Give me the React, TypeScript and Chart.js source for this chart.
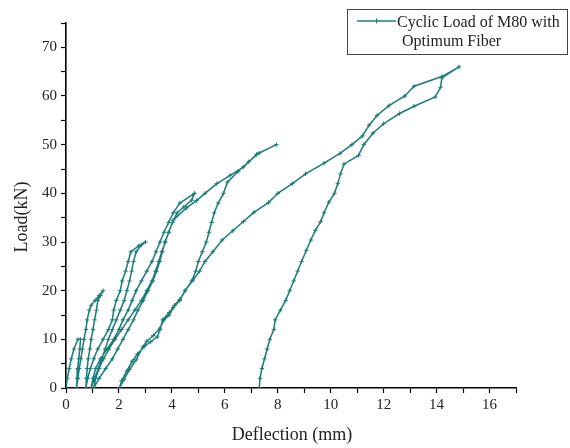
import { useEffect, useRef } from 'react';
import { Chart, registerables } from 'chart.js';

Chart.register(...registerables);

// Cycle 1: load to 10 kN and unload
const c1Defl = [0, 0.05, 0.12, 0.2, 0.3, 0.45, 0.55, 0.52, 0.48, 0.44, 0.42, 0.4];
const c1Load = [0, 2, 4, 6, 8, 10, 10, 8, 6, 4, 2, 0];
// Cycle 2: load to 20 kN and unload
const c2Defl = [0.45, 0.5, 0.56, 0.62, 0.68, 0.75, 0.8, 0.88, 0.95, 1.1, 1.25, 1.4, 1.3, 1.2, 1.15, 1.08, 1.02, 0.95, 0.9, 0.84, 0.8, 0.77, 0.75];
const c2Load = [2, 4, 6, 8, 10, 12, 14, 16, 17, 18, 19, 20, 19, 18, 16, 14, 12, 10, 8, 6, 4, 2, 0];
// Cycle 3: load to 30 kN and unload
const c3Defl = [0.82, 0.92, 1.05, 1.2, 1.4, 1.6, 1.75, 1.8, 1.9, 2.05, 2.12, 2.25, 2.35, 2.45, 2.75, 3.0, 2.85, 2.65, 2.55, 2.48, 2.4, 2.3, 2.2, 2.05, 1.9, 1.75, 1.6, 1.48, 1.35, 1.22, 1.08, 0.95];
const c3Load = [2, 4, 6, 8, 10, 12, 14, 16, 18, 20, 22, 24, 26, 28, 29.2, 30, 29.4, 28, 26, 24, 22, 20, 18, 16, 14, 12, 10, 8, 6, 4, 2, 0];
// Cycle 4: load to 40 kN and unload
const c4Defl = [1.02, 1.12, 1.3, 1.55, 1.8, 2.0, 2.15, 2.35, 2.5, 2.65, 2.85, 3.05, 3.25, 3.4, 3.55, 3.7, 3.88, 4.05, 4.3, 4.85, 4.75, 4.45, 4.2, 4.02, 3.88, 3.74, 3.64, 3.54, 3.42, 3.28, 3.1, 2.92, 2.72, 2.55, 2.35, 2.15, 1.95, 1.75, 1.5, 1.25, 1.05];
const c4Load = [2, 4, 6, 8, 10, 12, 14, 16, 18, 20, 22, 24, 26, 28, 30, 32, 34, 36, 38, 40, 38.6, 37.2, 36, 34, 32, 30, 28, 26, 24, 22, 20, 18, 16, 14, 12, 10, 8, 6, 4, 2, 0];
// Cycle 5: load to 50 kN and unload
const c5Defl = [1.12, 1.25, 1.42, 1.62, 1.85, 2.1, 2.35, 2.6, 2.85, 3.05, 3.25, 3.38, 3.5, 3.62, 3.75, 3.88, 4.05, 4.55, 4.93, 5.25, 5.7, 6.2, 6.7, 7.2, 7.95, 7.3, 6.9, 6.5, 6.1, 5.95, 5.75, 5.6, 5.5, 5.4, 5.3, 5.15, 5.0, 4.9, 4.75, 4.5, 4.3, 4.05, 3.9, 3.7, 3.55, 3.3, 3.05, 2.9, 2.65, 2.4, 2.2, 2.02];
const c5Load = [2, 4, 6, 8, 10, 12, 14, 16, 18, 20, 22, 24, 26, 28, 30, 32, 34.5, 37, 38.5, 40, 42, 43.7, 45.4, 48, 50, 48.3, 46.5, 44.5, 42.3, 40, 38, 36, 34, 32, 30, 28, 26, 24, 22, 20, 18, 16.5, 15, 14, 12.3, 10.8, 9.6, 8.4, 5.8, 3.8, 1.8, 0];
// Cycle 6: load to 66 kN and unload
const c6Defl = [2.1, 2.3, 2.5, 2.7, 2.95, 3.2, 3.45, 3.55, 3.65, 3.9, 4.1, 4.3, 4.5, 4.8, 5.05, 5.25, 5.55, 5.9, 6.3, 6.7, 7.1, 7.65, 8.0, 8.55, 9.05, 9.75, 10.35, 10.8, 11.2, 11.45, 11.75, 12.2, 12.8, 13.15, 14.2, 14.85, 14.2, 14.15, 13.95, 13.15, 12.6, 12.0, 11.6, 11.25, 11.05, 10.5, 10.37, 10.27, 10.14, 9.93, 9.75, 9.62, 9.42, 9.25, 9.08, 8.9, 8.75, 8.6, 8.45, 8.3, 8.1, 7.9, 7.85, 7.7, 7.6, 7.5, 7.4, 7.33, 7.3];
const c6Load = [1.5, 3.5, 5.5, 7, 8.5, 9.5, 10.5, 12, 14, 15.5, 17, 18.2, 20, 22.2, 24, 26, 28, 30.4, 32.3, 34.2, 36.1, 38.1, 40, 42, 44, 46.2, 48.2, 50, 51.8, 54, 56, 58, 60, 62, 64, 66, 63.7, 61.8, 59.8, 57.9, 56.4, 54.3, 52.4, 50, 47.8, 46, 44, 42, 40, 38.2, 36, 34.2, 32.4, 30.4, 28.3, 26, 24, 22, 20, 18, 16, 14, 12, 10, 8, 6, 4, 2, 0];

const xTickLabels = [0, 2, 4, 6, 8, 10, 12, 14, 16];
const yTickLabels = [0, 10, 20, 30, 40, 50, 60, 70];

const seriesName = ['Cyclic Load of M80 with', 'Optimum Fiber'];
const xTitle = 'Deflection (mm)';
const yTitle = 'Load(kN)';

const TEAL = '#1b7d78';
const FONT = '"Liberation Serif", "Times New Roman", serif';

const deflAll = [...c1Defl, ...c2Defl, ...c3Defl, ...c4Defl, ...c5Defl, ...c6Defl];
const loadAll = [...c1Load, ...c2Load, ...c3Load, ...c4Load, ...c5Load, ...c6Load];

export default function App() {
  const ref = useRef<HTMLCanvasElement | null>(null);
  useEffect(() => {
    if (!ref.current) return;
    const points = deflAll.map((x, i) => ({ x, y: loadAll[i] }));
    const decor = {
      id: 'decor',
      afterDraw(chart: any) {
        const ctx = chart.ctx as CanvasRenderingContext2D;
        ctx.save();
        // y title
        ctx.fillStyle = '#222';
        ctx.font = `18px ${FONT}`;
        ctx.textAlign = 'center';
        ctx.textBaseline = 'middle';
        ctx.translate(22, 217);
        ctx.rotate(-Math.PI / 2);
        ctx.fillText(yTitle, 0, 0);
        ctx.restore();
        ctx.save();
        ctx.fillStyle = '#222';
        ctx.font = `18px ${FONT}`;
        ctx.textAlign = 'center';
        ctx.textBaseline = 'middle';
        ctx.fillText(xTitle, 292, 435);
        // legend box
        ctx.strokeStyle = '#444';
        ctx.lineWidth = 1;
        ctx.strokeRect(347.5, 9.5, 220, 45);
        ctx.strokeStyle = TEAL;
        ctx.lineWidth = 1.5;
        ctx.beginPath();
        ctx.moveTo(357, 21);
        ctx.lineTo(396, 21);
        ctx.stroke();
        ctx.lineWidth = 1;
        ctx.beginPath();
        ctx.moveTo(376.5, 18.5);
        ctx.lineTo(376.5, 23.5);
        ctx.stroke();
        ctx.fillStyle = '#222';
        ctx.font = `16px ${FONT}`;
        ctx.textAlign = 'left';
        ctx.textBaseline = 'alphabetic';
        ctx.fillText(seriesName[0], 397, 27);
        ctx.fillText(seriesName[1], 402, 46);
        ctx.restore();
      },
    };
    const chart = new Chart(ref.current, {
      type: 'line',
      data: {
        datasets: [
          {
            label: seriesName.join(' '),
            data: points,
            borderColor: TEAL,
            backgroundColor: TEAL,
            borderWidth: 1.5,
            pointStyle: 'cross',
            pointRadius: 2.2,
            pointBorderWidth: 1,
            tension: 0,
          },
        ],
      },
      options: {
        animation: false,
        responsive: false,
        layout: { padding: { left: 0, top: 23, right: 54, bottom: 0 } },
        plugins: { legend: { display: false }, tooltip: { enabled: false } },
        scales: {
          x: {
            type: 'linear',
            min: 0,
            max: 17,
            afterFit: (s: any) => {
              s.height = 60;
            },
            ticks: {
              stepSize: 1,
              autoSkip: false,
              maxRotation: 0,
              padding: 3,
              color: '#222',
              font: { family: FONT, size: 15 },
              callback: (v: any) => (xTickLabels.includes(Number(v)) ? String(v) : ''),
            },
            grid: { drawOnChartArea: false, drawTicks: true, tickLength: 5, color: '#000', tickWidth: 1.2 },
            border: { display: true, color: '#000', width: 1.6 },
          },
          y: {
            type: 'linear',
            min: 0,
            max: 75,
            afterFit: (s: any) => {
              s.width = 66;
            },
            ticks: {
              stepSize: 5,
              autoSkip: false,
              padding: 4,
              color: '#222',
              font: { family: FONT, size: 15 },
              callback: (v: any) => (yTickLabels.includes(Number(v)) ? String(v) : ''),
            },
            grid: { drawOnChartArea: false, drawTicks: true, tickLength: 5, color: '#000', tickWidth: 1.2 },
            border: { display: true, color: '#000', width: 1.6 },
          },
        },
      },
      plugins: [decor],
    });
    return () => chart.destroy();
  }, []);
  return (
    <div style={{ position: 'absolute', left: 0, top: 0, width: 570, height: 448, background: '#fff' }}>
      <canvas ref={ref} width={570} height={448} style={{ width: 570, height: 448, display: 'block' }} />
    </div>
  );
}
